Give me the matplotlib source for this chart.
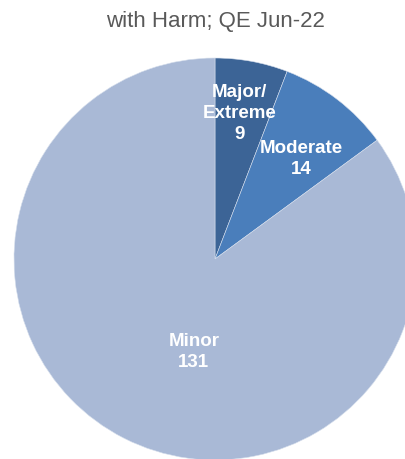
import matplotlib
matplotlib.use("Agg")
import matplotlib.pyplot as plt
import numpy as np

title = "with Harm; QE Jun-22"
categories = ["Major/\nExtreme", "Moderate", "Minor"]
counts = [9, 14, 131]
colors = ["#3c6496", "#4a7ebb", "#a9b9d6"]

# label placement (radius fraction, angle offset in deg from wedge middle)
label_pos = [(0.74, -1.0), (0.66, 3.0), (0.47, -14.0)]

plt.rcParams["font.family"] = ["Liberation Sans", "DejaVu Sans"]

W, H = 406, 460
cx, cy, r = 215, 260, 201

fig = plt.figure(figsize=(W / 100, H / 100), dpi=100)
ax = fig.add_axes([0, 0, 1, 1])

wedges, _ = ax.pie(
    counts,
    colors=colors,
    startangle=90,
    counterclock=False,
    radius=1.0,
    wedgeprops=dict(edgecolor="#d5deec", linewidth=0.4),
    frame=True,
)
ax.set_xlim(-cx / r, (W - cx) / r)
ax.set_ylim(-(H - cy) / r, cy / r)
ax.set_aspect("auto")
ax.axis("off")

for w, name, n, (dist, off) in zip(wedges, categories, counts, label_pos):
    mid = np.deg2rad((w.theta1 + w.theta2) / 2 - off)
    x, y = dist * np.cos(mid), dist * np.sin(mid)
    ax.text(x, y, f"{name}\n{n}", ha="center", va="center", color="white",
            fontsize=13.5, fontweight="bold", linespacing=1.32)

fig.text(cx / W, 1 - 22 / H, title, ha="center", va="center",
         fontsize=16, color="#595959")

fig.savefig("out.png", dpi=100)
